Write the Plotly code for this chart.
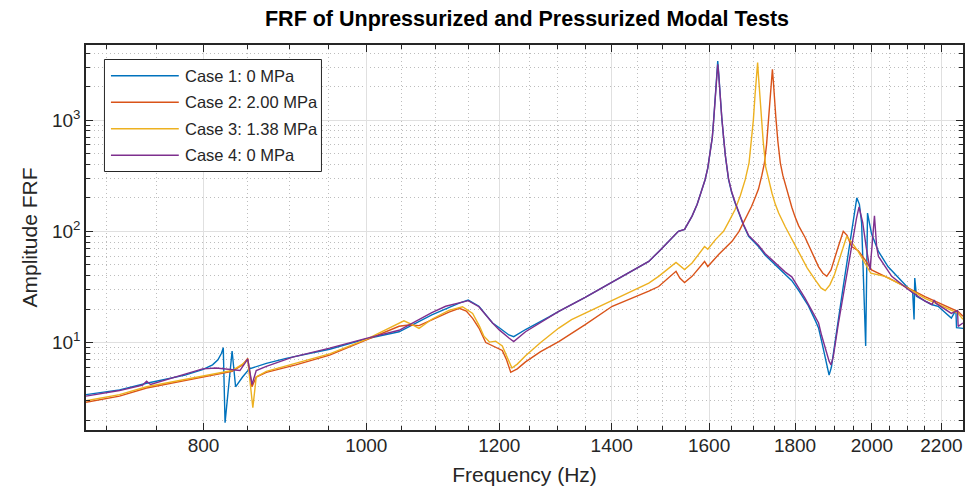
import numpy as np
import plotly.graph_objects as go

# ---------------- data ----------------
f1 = [681, 713, 740, 780, 799, 810, 816, 820, 822, 824, 832, 836, 844, 852, 872, 896, 951,
      1000, 1046, 1094, 1136, 1150, 1167, 1189, 1200, 1216, 1224, 1244, 1284, 1302, 1350,
      1401, 1473, 1493, 1520, 1534, 1547, 1555, 1563, 1574, 1584, 1591, 1597, 1603, 1607,
      1610, 1613, 1616, 1619, 1621, 1624, 1628, 1632, 1636, 1643, 1650, 1658, 1666, 1677,
      1689, 1700, 1712, 1728, 1745, 1760, 1776, 1792, 1810, 1833, 1850, 1859, 1867, 1875,
      1880, 1886, 1892, 1900, 1910, 1923, 1937, 1950, 1959, 1966, 1972, 1983, 1988, 1999,
      2018, 2045, 2093, 2115, 2119, 2121, 2126, 2170, 2190, 2230, 2244, 2246, 2266]
a1 = [3.4, 3.75, 4.3, 5.1, 5.7, 6.3, 7.0, 8.0, 9.0, 1.9, 8.4, 4.0, 4.9, 5.8, 6.5, 7.2, 8.7,
      10.8, 12.5, 17.7, 22.6, 24.1, 21.2, 15.0, 13.6, 11.7, 11.3, 13.1, 16.9, 19.1, 25.5,
      35.0, 53.6, 65.7, 87, 100, 104, 118, 137, 175, 237, 290, 370, 520, 700,
      1000, 1500, 2300, 3400, 2700, 1600, 1050, 700, 480, 295, 225, 180, 146, 114,
      90, 81, 73, 61, 53, 47, 41, 36, 29, 21.5, 16, 13.5, 10.2, 7.5,
      6.3, 5.1, 6.0, 9.0, 16, 32, 65, 130, 200, 175, 119, 9.3, 146, 95,
      66, 48, 33, 28, 16.1, 38, 26, 22, 21.2, 16.6, 19.6, 13.6, 13.4]

f2 = [681, 713, 740, 799, 832, 844, 850, 855, 860, 872, 908, 951, 1000, 1046, 1060, 1075,
      1094, 1120, 1136, 1147, 1157, 1167, 1178, 1194, 1205, 1212, 1219, 1230, 1244, 1270,
      1302, 1350, 1401, 1473, 1493, 1529, 1537, 1547, 1563, 1590, 1597, 1621, 1651, 1667,
      1681, 1696, 1705, 1712, 1720, 1726, 1731, 1736, 1740, 1743, 1745, 1747, 1750, 1753,
      1758, 1764, 1770, 1776, 1784, 1792, 1800, 1809, 1825, 1842, 1859, 1870, 1880, 1891,
      1900, 1910, 1923, 1933, 1945, 1963, 1981, 1999, 2055, 2151, 2251, 2266]
a2 = [2.9, 3.3, 3.9, 4.9, 5.5, 6.3, 7.2, 4.0, 4.9, 5.4, 6.3, 7.7, 10.6, 14.0, 14.4, 14.2,
      16.0, 18.8, 20.3, 19.2, 16.5, 13.5, 10.0, 9.0, 8.5, 7.0, 5.4, 5.8, 6.7, 8.3,
      10.2, 14.5, 21.2, 29.0, 31.9, 43.7, 38, 34.7, 39.4, 53.6, 48.3, 61.8, 81.3, 100,
      127, 168, 205, 240, 320, 413, 600, 1000, 1600, 2300, 2865, 2300, 1500, 1087,
      650, 413, 320, 265, 215, 165, 135, 112, 88, 65, 48, 42, 39.4, 45,
      58, 73, 100, 92, 73, 67, 55.7, 45, 36.8, 25.9, 19.0, 17.2]

f3 = [681, 713, 740, 799, 832, 844, 850, 856, 860, 872, 908, 951, 1000, 1053, 1065, 1075,
      1094, 1120, 1141, 1157, 1168, 1175, 1184, 1194, 1205, 1213, 1221, 1230, 1244, 1270,
      1302, 1325, 1401, 1426, 1473, 1493, 1529, 1547, 1563, 1590, 1597, 1614, 1632, 1645,
      1658, 1670, 1681, 1690, 1696, 1700, 1704, 1707, 1710, 1712, 1715, 1718, 1723, 1729,
      1736, 1744, 1752, 1760, 1776, 1792, 1809, 1830, 1850, 1865, 1876, 1888, 1900, 1910,
      1922, 1932, 1945, 1963, 1997, 2036, 2093, 2151, 2251, 2266]
a3 = [3.0, 3.4, 4.0, 5.0, 5.6, 6.4, 7.0, 2.6, 4.9, 5.5, 6.5, 7.9, 10.7, 15.7, 14.5, 13.4,
      16.2, 19.5, 21.0, 18.3, 14.0, 11.4, 10.1, 10.3, 9.3, 7.5, 5.9, 6.4, 7.6, 10.0,
      13.5, 16.1, 24.1, 27.1, 34.3, 39.4, 52.5, 45.3, 51.9, 73, 69, 84.3, 100, 125,
      157, 210, 290, 413, 650, 1000, 1700, 2400, 3290, 2500, 1700, 1087, 650, 380,
      293, 220, 175, 146, 110, 85, 64, 47, 36.8, 31, 29.3, 33, 41, 51.9,
      72, 90, 80, 65.7, 42, 39.4, 31.9, 25.0, 18.3, 16.2]

f4 = [681, 713, 736, 740, 744, 770, 799, 814, 841, 850, 855, 860, 872, 904, 951, 1000,
      1046, 1094, 1115, 1150, 1167, 1189, 1200, 1216, 1224, 1244, 1284, 1302, 1350, 1401,
      1473, 1493, 1520, 1534, 1547, 1555, 1563, 1574, 1584, 1591, 1597, 1603, 1607, 1610,
      1613, 1616, 1619, 1621, 1624, 1628, 1632, 1636, 1643, 1650, 1658, 1666, 1677, 1689,
      1700, 1712, 1728, 1745, 1760, 1776, 1792, 1810, 1825, 1845, 1859, 1867, 1875, 1880,
      1886, 1891, 1897, 1910, 1923, 1937, 1950, 1958, 1965, 1975, 1985, 1995, 2007, 2013,
      2018, 2055, 2102, 2151, 2172, 2178, 2184, 2230, 2249, 2251, 2266]
a4 = [3.3, 3.7, 4.15, 4.5, 4.2, 4.9, 5.8, 5.9, 5.6, 7.1, 4.2, 5.6, 6.1, 7.4, 8.9, 10.9,
      12.9, 18.6, 21.2, 23.8, 21.0, 15.0, 13.0, 11.0, 10.2, 12.5, 16.9, 19.1, 25.5, 35.0,
      53.6, 65.7, 87, 100, 104, 118, 137, 175, 237, 290, 370, 520, 700, 1000,
      1450, 2200, 3180, 2600, 1600, 1050, 700, 480, 300, 228, 183, 148, 116, 92,
      83, 75, 63, 55, 49, 43, 39, 31, 25, 18.5, 15, 11.5, 9.0, 8.0,
      6.8, 6.3, 7.5, 14.7, 27, 48, 86, 130, 166, 120, 70, 45, 138, 73,
      59.5, 39.4, 30, 23.6, 22.0, 24.1, 22.5, 18.3, 19.4, 14.0, 15.0]

names = ["Case 1: 0 MPa", "Case 2: 2.00 MPa", "Case 3: 1.38 MPa", "Case 4: 0 MPa"]
colors = ["#0072BD", "#D95319", "#EDB120", "#7E2F8E"]

x_major = [800, 1000, 1200, 1400, 1600, 1800, 2000, 2200]
x_minor = [700, 750, 850, 900, 950, 1050, 1100, 1150, 1250, 1300, 1350, 1450, 1500,
           1550, 1650, 1700, 1750, 1850, 1900, 1950, 2050, 2100, 2150]
y_major = [10, 100, 1000]
y_major_text = ["10<sup>1</sup>", "10<sup>2</sup>", "10<sup>3</sup>"]
y_minor = [m * 10 ** k for k in range(0, 4) for m in range(2, 10)]

# ---------------- figure ----------------
fig = go.Figure()
for f, a, n, c in zip([f1, f2, f3, f4], [a1, a2, a3, a4], names, colors):
    fig.add_trace(go.Scatter(x=f, y=a, mode="lines", name=n,
                             line=dict(color=c, width=1.4), showlegend=False))

axcol = "#262626"
W, H = 968, 491
ML, MR, MT, MB = 86, 3, 45, 61
PW, PH = W - ML - MR, H - MT - MB


def px2paper_x(px):
    return (px - ML) / PW


def px2paper_y(py):
    return (H - MB - py) / PH


# legend drawn as a boxed key (MATLAB style long line samples)
shapes = [dict(type="rect", xref="paper", yref="paper", layer="above",
               x0=px2paper_x(104.5), x1=px2paper_x(322), y0=px2paper_y(171.5), y1=px2paper_y(59.5),
               line=dict(color=axcol, width=1), fillcolor="white")]
annotations = []
row_y = [75.7, 102.2, 128.8, 155.3]
for n, c, ry in zip(names, colors, row_y):
    shapes.append(dict(type="line", xref="paper", yref="paper", layer="above",
                       x0=px2paper_x(111), x1=px2paper_x(179), y0=px2paper_y(ry), y1=px2paper_y(ry),
                       line=dict(color=c, width=1.6)))
    annotations.append(dict(xref="paper", yref="paper", x=px2paper_x(183), y=px2paper_y(ry),
                            xanchor="left", yanchor="middle", showarrow=False, text=n,
                            font=dict(size=16.5, color=axcol)))

fig.update_layout(
    width=W, height=H,
    margin=dict(l=ML, r=MR, t=MT, b=MB),
    paper_bgcolor="white", plot_bgcolor="white",
    font=dict(family="Liberation Sans, Arial, sans-serif", color=axcol),
    title=dict(text="<b>FRF of Unpressurized and Pressurized Modal Tests</b>",
               x=527 / W, xanchor="center", y=1 - 18.5 / H, yanchor="middle",
               font=dict(size=21.5, color="#000000")),
    showlegend=False,
    shapes=shapes,
    annotations=annotations,
)

fig.update_xaxes(
    type="log", range=[np.log10(681), np.log10(2266)],
    tickmode="array", tickvals=x_major, ticktext=[str(v) for v in x_major],
    ticks="inside", ticklen=7, tickwidth=1, tickcolor=axcol,
    showline=True, linecolor=axcol, linewidth=1.5, mirror="ticks",
    showgrid=True, gridcolor="#e0e0e0", gridwidth=1, zeroline=False,
    minor=dict(tickmode="array", tickvals=x_minor, ticks="inside", ticklen=4,
               tickcolor=axcol, showgrid=True, gridcolor="#bdbdbd", griddash="1px,3px"),
    tickfont=dict(size=19, color=axcol), ticklabelstandoff=-3,
    title=dict(text="Frequency (Hz)", font=dict(size=21, color=axcol), standoff=13),
)
fig.update_yaxes(
    type="log", range=[0.2135, 3.676],
    tickmode="array", tickvals=y_major, ticktext=y_major_text,
    ticks="inside", ticklen=7, tickwidth=1, tickcolor=axcol,
    showline=True, linecolor=axcol, linewidth=1.5, mirror="ticks",
    showgrid=True, gridcolor="#e0e0e0", gridwidth=1, zeroline=False,
    minor=dict(tickmode="array", tickvals=y_minor, ticks="inside", ticklen=4,
               tickcolor=axcol, showgrid=True, gridcolor="#bdbdbd", griddash="1px,3px"),
    tickfont=dict(size=19, color=axcol),
    title=dict(text="Amplitude FRF", font=dict(size=21, color=axcol), standoff=9),
)

fig.write_html("out.html")
